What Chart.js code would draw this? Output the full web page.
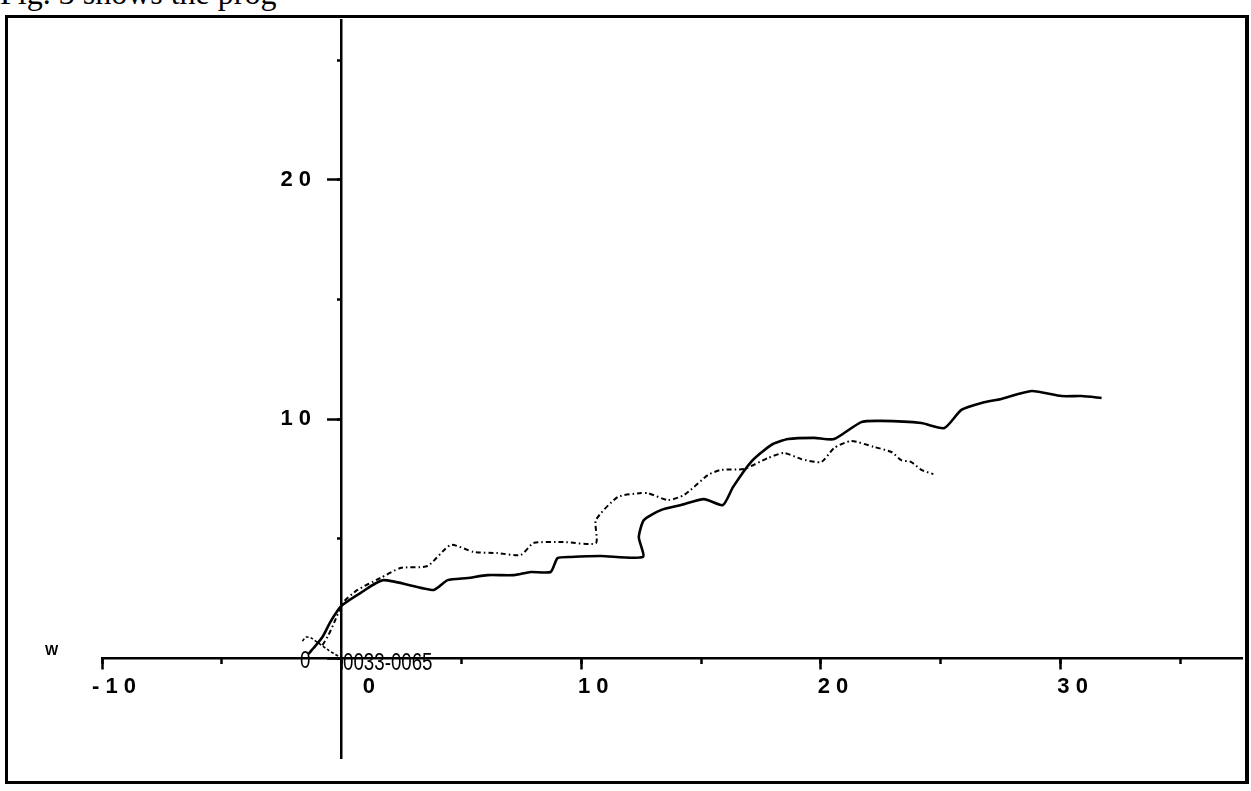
<!DOCTYPE html>
<html>
<head>
<meta charset="utf-8">
<script src="https://cdn.jsdelivr.net/npm/chart.js@4"></script>
<style>
  html, body { margin: 0; padding: 0; background: #fff; width: 1251px; height: 791px; overflow: hidden; }
  #wrap { position: relative; width: 1251px; height: 791px; overflow: hidden; }
  #frame { position: absolute; left: 5px; top: 15px; width: 1237px; height: 763px;
           border: 3px solid #000; border-right-width: 4px; }
  #plot { position: absolute; left: 0; top: 0; }
  #cap { position: absolute; left: 0px; top: -23px; font: 32px "Liberation Serif", "Times New Roman", serif;
         line-height: 32px; white-space: nowrap; }
  .lbl { position: absolute; font-family: "Liberation Sans", sans-serif; font-size: 24px;
         color: #000; white-space: pre; line-height: 24px; transform: scaleX(0.78); transform-origin: 0 0; }
</style>
</head>
<body>
<div id="wrap">
  <div id="cap">Fig. 3 shows the prog</div>
  <div id="frame"></div>
  <canvas id="plot" width="1251" height="791"></canvas>
  <div class="lbl" style="left:45px; top:643px; font: bold 14px 'Liberation Sans', sans-serif; line-height:14px; transform:none;">W</div>
  <div class="lbl" style="left:300px; top:648px;">0</div>
  <div class="lbl" style="left:343px; top:650px;">0033-0065</div>
</div>
<script>
// axis ranges
const xRange = [-10, 37.57];
const yRange = [-4.18, 26.69];
const xMajorStep = 10, xMinorStep = 5;
const yMajorStep = 10, yMinorStep = 5;
const yLabelled = [10, 20];

// solid curve
const solidX = [-1.39, -1.17, -0.80, -0.47, -0.18, 0.03, 0.78, 1.74, 3.83, 4.42, 5.26, 6.09, 7.18, 7.89, 8.72,
  9.01, 9.56, 10.81, 12.57, 12.40, 12.61, 13.32, 14.16, 15.12, 15.91, 16.33, 17.08, 17.92, 18.63, 19.72,
  20.55, 21.68, 22.52, 24.19, 25.15, 25.86, 26.70, 27.53, 28.79, 30.04, 30.88, 31.71];
const solidY = [0.17, 0.42, 0.88, 1.51, 1.97, 2.22, 2.72, 3.26, 2.85, 3.26, 3.35, 3.47, 3.47, 3.60, 3.60,
  4.18, 4.23, 4.27, 4.23, 5.06, 5.77, 6.19, 6.40, 6.65, 6.40, 7.15, 8.20, 8.91, 9.16, 9.21,
  9.16, 9.87, 9.92, 9.83, 9.62, 10.38, 10.67, 10.84, 11.17, 10.96, 10.96, 10.88];

// dash-dot curve
const dashX = [-0.80, -0.55, -0.30, -0.09, 0.03, 0.66, 1.62, 2.46, 3.58, 4.55, 5.51, 6.51, 7.47, 8.01, 9.27,
  10.61, 10.61, 11.53, 12.49, 12.78, 13.62, 14.29, 15.29, 15.83, 16.79, 17.79, 18.46, 19.17, 20.01,
  20.55, 21.26, 22.22, 22.94, 23.35, 23.77, 24.19, 24.69];
const dashY = [0.54, 0.96, 1.51, 2.01, 2.30, 2.85, 3.35, 3.77, 3.85, 4.73, 4.44, 4.39, 4.31, 4.81, 4.85,
  4.81, 5.77, 6.74, 6.90, 6.90, 6.61, 6.82, 7.66, 7.87, 7.91, 8.37, 8.58, 8.33, 8.20,
  8.79, 9.08, 8.83, 8.62, 8.28, 8.20, 7.87, 7.70];

// small dotted loop near the origin
const loopX = [-1.64, -1.48, -1.27, -0.97, -0.55, -0.14];
const loopY = [0.71, 0.88, 0.84, 0.63, 0.33, 0.08];
const stemX = [-0.03, -0.03];
const stemY = [0.04, 1.92];

const pts = (xs, ys) => xs.map((x, i) => ({ x, y: ys[i] }));
const isMult = (v, s) => Math.abs(v / s - Math.round(v / s)) < 1e-6;
const spaced = v => String(v).split('').join(' ');

const tickFont = { family: '"Liberation Sans", sans-serif', size: 22, weight: 'bold' };

function lineSet(data, width, dash) {
  return {
    data,
    showLine: true,
    borderColor: '#000',
    borderWidth: width,
    borderDash: dash,
    pointRadius: 0,
    tension: 0.2,
    fill: false,
  };
}

new Chart(document.getElementById('plot'), {
  type: 'scatter',
  data: {
    datasets: [
      lineSet(pts(solidX, solidY), 2.6, []),
      lineSet(pts(dashX, dashY), 2, [5, 3, 1.5, 3]),
      lineSet(pts(loopX, loopY), 1.6, [3, 2]),
      lineSet(pts(stemX, stemY), 1.6, [2, 2]),
    ],
  },
  options: {
    responsive: false,
    animation: false,
    devicePixelRatio: 1,
    layout: { padding: { left: 102, top: 20, right: 9, bottom: 33 } },
    plugins: { legend: { display: false }, tooltip: { enabled: false } },
    scales: {
      x: {
        type: 'linear', axis: 'x', position: { y: 0 },
        min: xRange[0], max: xRange[1],
        afterBuildTicks: s => { s.ticks = s.ticks.filter(t => isMult(t.value, xMajorStep) && t.value <= 30); },
        ticks: {
          stepSize: xMajorStep, labelOffset: 12, padding: 6, color: '#000', font: tickFont,
          callback: v => v === 0 ? '     0' : spaced(v),
        },
        grid: { drawOnChartArea: false, tickLength: 10, tickWidth: 2.5, tickColor: '#000' },
        border: { display: true, color: '#000', width: 2.5 },
      },
      x2: {
        type: 'linear', axis: 'x', position: { y: 0 },
        min: xRange[0], max: xRange[1],
        afterBuildTicks: s => { s.ticks = s.ticks.filter(t => isMult(t.value, xMinorStep)); },
        ticks: { stepSize: xMinorStep, display: false },
        grid: { drawOnChartArea: false, tickLength: 6, tickWidth: 2.5, tickColor: '#000' },
        border: { display: false },
      },
      y: {
        type: 'linear', axis: 'y', position: { x: 0 },
        min: yRange[0], max: yRange[1],
        afterBuildTicks: s => { s.ticks = s.ticks.filter(t => isMult(t.value, yMajorStep)); },
        ticks: {
          stepSize: yMajorStep, color: '#000', font: tickFont,
          callback: v => yLabelled.includes(v) ? spaced(v) + '     ' : '',
        },
        grid: { drawOnChartArea: false, tickLength: 13, tickWidth: 2.5, tickColor: '#000' },
        border: { display: true, color: '#000', width: 2.5 },
      },
      y2: {
        type: 'linear', axis: 'y', position: { x: 0 },
        min: yRange[0], max: yRange[1],
        afterBuildTicks: s => { s.ticks = s.ticks.filter(t => isMult(t.value, yMinorStep)); },
        ticks: { stepSize: yMinorStep, display: false },
        grid: { drawOnChartArea: false, tickLength: 5, tickWidth: 2.5, tickColor: '#000' },
        border: { display: false },
      },
    },
  },
});
</script>
</body>
</html>
